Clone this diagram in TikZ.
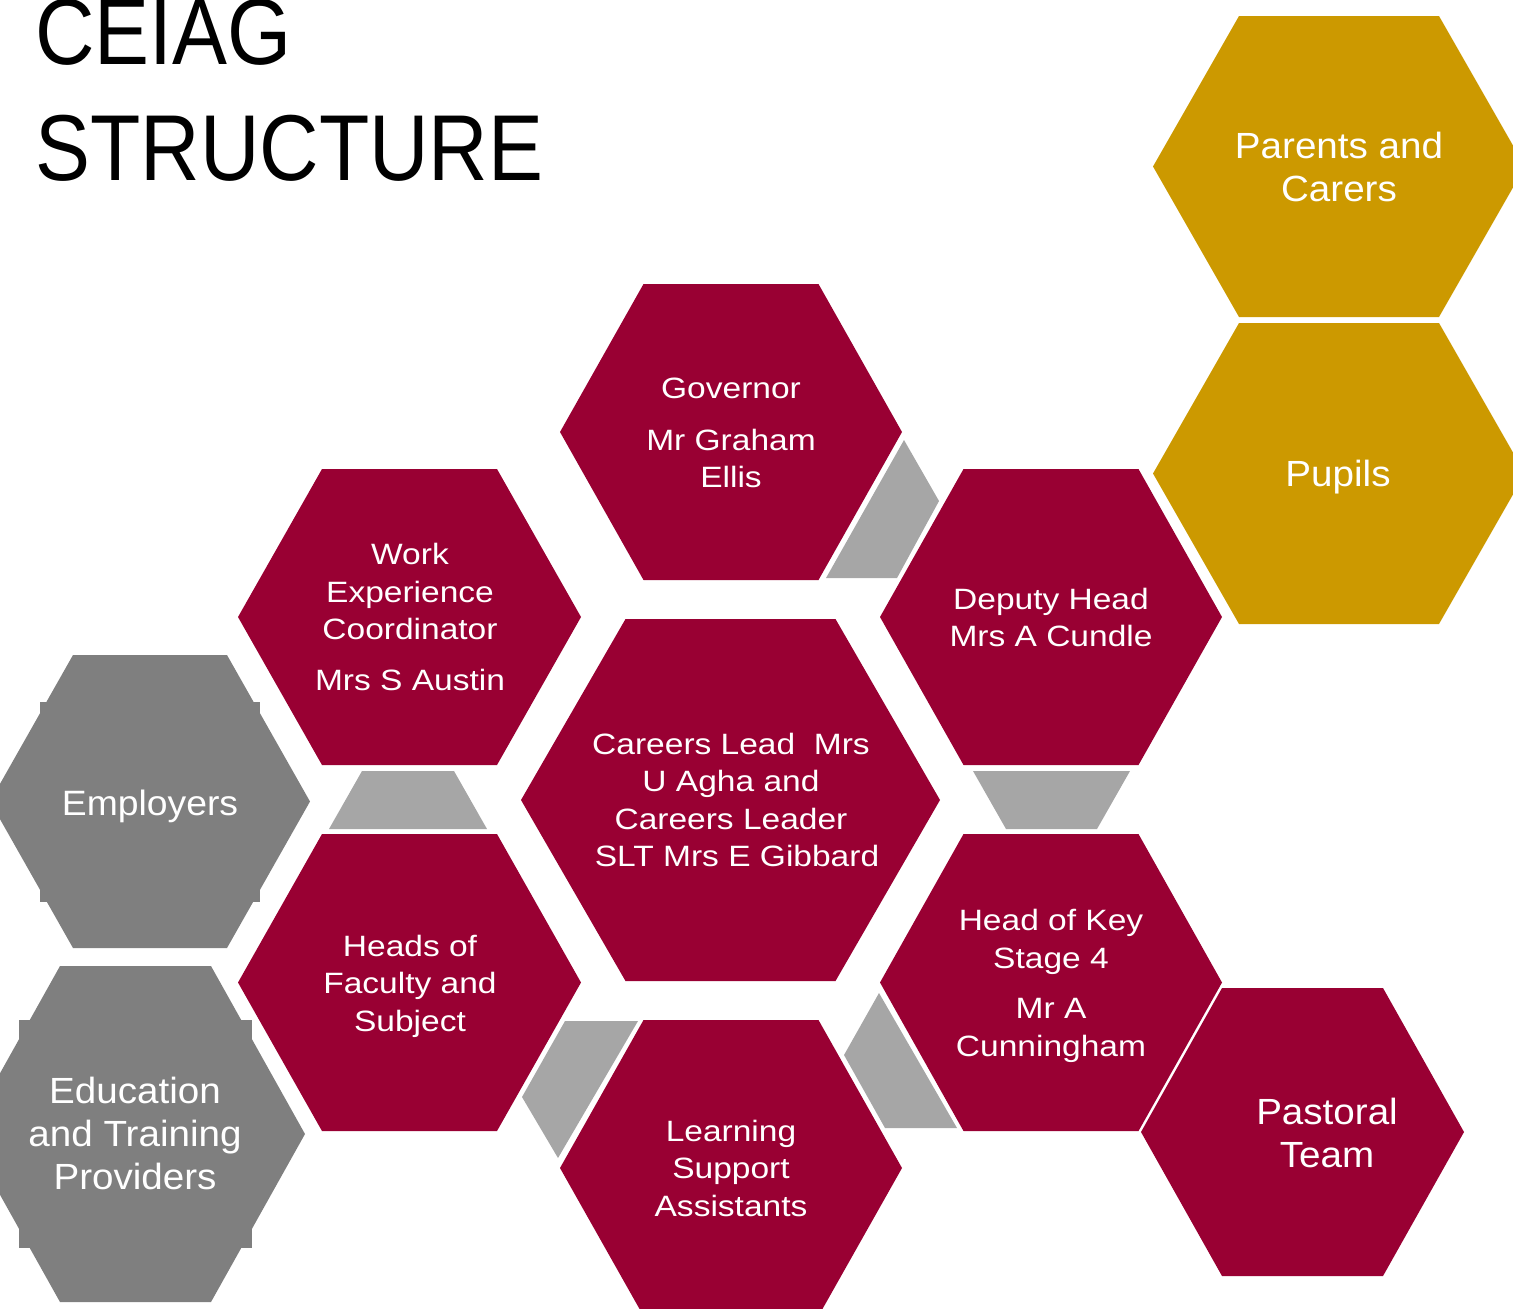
\documentclass[tikz,border=0pt]{standalone}
\usepackage{fontspec}
\setmainfont{Liberation Sans}
\newfontfamily\bodyfont[FakeStretch=1.14]{Liberation Sans}
\newfontfamily\bigfont[FakeStretch=1.06]{Liberation Sans}
\newfontfamily\titlefont[FakeStretch=0.88]{Liberation Sans}
\definecolor{crimson}{HTML}{990033}
\definecolor{goldhex}{HTML}{CC9900}
\definecolor{darkgreyhex}{HTML}{7F7F7F}
\definecolor{lightgreyhex}{HTML}{A6A6A6}
% #1 cx, #2 cy, #3 half width, #4 half top edge, #5 half height, #6 colour
\newcommand{\hexfill}[6]{%
  \fill[#6] ({#1-#3},{#2}) -- ({#1-#4},{#2-#5}) -- ({#1+#4},{#2-#5}) --
    ({#1+#3},{#2}) -- ({#1+#4},{#2+#5}) -- ({#1-#4},{#2+#5}) -- cycle;}
\tikzset{
  redtxt/.style={text=white, align=center, inner sep=0pt,
    font=\bodyfont\fontsize{14.7}{18.75}\selectfont},
  bigtxt/.style={text=white, align=center, inner sep=0pt,
    font=\bigfont\fontsize{18.2}{21.5}\selectfont},
  titletxt/.style={text=black, inner sep=0pt, anchor=base west,
    font=\titlefont\fontsize{46.8}{58}\selectfont},
  linkshape/.style={fill=lightgreyhex}
}
\begin{document}
\begin{tikzpicture}[x=0.5pt,y=-0.5pt]
\useasboundingbox (0,0) rectangle (1513,1308);
\clip (0,0) rectangle (1513,1308);

% title
\node[titletxt] (title1) at (35,64) {CEIAG};
\node[titletxt] (title2) at (35,180) {STRUCTURE};

% gold hexagons
\hexfill{1339}{166.5}{186}{100}{150.5}{goldhex}
\hexfill{1339}{473.5}{186}{100}{150.5}{goldhex}

% grey hexagons
\hexfill{150}{801.5}{160}{77}{146.5}{darkgreyhex}
\fill[darkgreyhex] (40,702) rectangle (260,902);
\hexfill{135.5}{1134}{169.5}{75.5}{168}{darkgreyhex}
\fill[darkgreyhex] (19,1020) rectangle (252,1248);

% crimson hexagons
\hexfill{731}{432}{171}{87.5}{148}{crimson}
\hexfill{409.5}{617}{171.5}{87.5}{148}{crimson}
\hexfill{1051}{617}{171}{87.5}{148}{crimson}
\hexfill{730.5}{800}{209.5}{105}{181}{crimson}
\hexfill{409.5}{982.5}{171.5}{87.5}{148.5}{crimson}
\hexfill{1051}{982.5}{171}{87.5}{148.5}{crimson}
\hexfill{731}{1168}{171}{87.5}{148}{crimson}
\hexfill{1302.5}{1132}{161.5}{80.5}{144}{crimson}

% light grey link shapes
\fill[linkshape] (904,440) -- (939,501) -- (897,578) -- (826,578) -- cycle;
\fill[linkshape] (362,771) -- (454,771) -- (487,829) -- (329,829) -- cycle;
\fill[linkshape] (973,771) -- (1130,771) -- (1097,829) -- (1006,829) -- cycle;
\fill[linkshape] (565,1021) -- (638,1021) -- (558,1158) -- (522,1097) -- cycle;
\fill[linkshape] (879,993) -- (844,1055) -- (885,1128) -- (957,1128) -- cycle;

% texts
\node[bigtxt] (parents) at (1339,166.5) {Parents and\\Carers};
\node[bigtxt] (pupils) at (1338,477) {Pupils};
\node[bigtxt, font=\bigfont\fontsize{17.6}{21.5}\selectfont] (employers) at (150,806) {Employers};
\node[bigtxt] (education) at (135,1133.5) {Education\\and Training\\Providers};
\node[bigtxt] (pastoral) at (1327,1132.5) {Pastoral\\Team};

\node[redtxt] (governor) at (731,433) {Governor\\[7pt]Mr Graham\\Ellis};
\node[redtxt] (workexp) at (410,617) {Work\\Experience\\Coordinator\\[6.5pt]Mrs S Austin};
\node[redtxt] (deputy) at (1051,617.5) {Deputy Head\\Mrs A Cundle};
\node[redtxt] (careers) at (731,800) {Careers Lead~ Mrs\\U Agha and\\Careers Leader\\\hspace*{6pt}SLT Mrs E Gibbard};
\node[redtxt] (heads) at (410,986) {Heads of\\Faculty and\\Subject};
\node[redtxt] (ks4) at (1051,986) {Head of Key\\Stage 4\\[6.5pt]Mr A\\Cunningham};
\node[redtxt] (learning) at (731,1168) {Learning\\Support\\Assistants};
\end{tikzpicture}
\end{document}
